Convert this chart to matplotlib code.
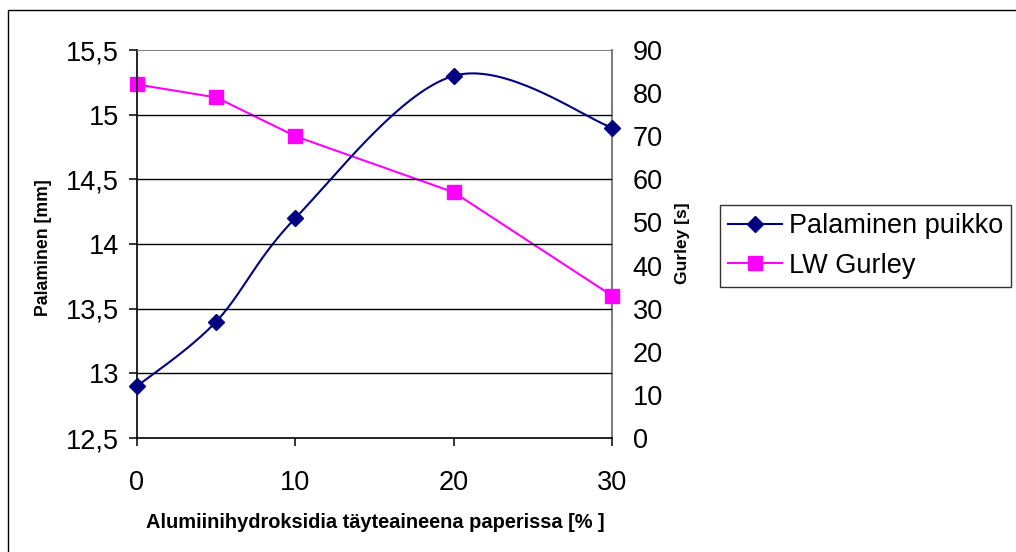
import matplotlib
matplotlib.use("Agg")
import matplotlib.pyplot as plt
import matplotlib.patches as patches
from matplotlib.ticker import FuncFormatter
import numpy as np

plt.rcParams['font.family'] = ['Liberation Sans', 'DejaVu Sans']

# data
filler = [0, 5, 10, 20, 30]
palaminen = [12.9, 13.4, 14.2, 15.3, 14.9]
gurley = [82, 79, 70, 57, 33]

x_ticks = [0, 10, 20, 30]
left_ticks = [12.5, 13, 13.5, 14, 14.5, 15, 15.5]
right_ticks = [0, 10, 20, 30, 40, 50, 60, 70, 80, 90]

NAVY = '#000080'
MAGENTA = '#FF00FF'


def smooth_line(xs, ys, n=40):
    # Excel-style smoothed line: cubic bezier with Catmull-Rom control points
    pts = np.column_stack([xs, ys]).astype(float)
    ext = np.vstack([pts[0], pts, pts[-1]])
    out = []
    t = np.linspace(0, 1, n)[:, None]
    for i in range(len(pts) - 1):
        p0, p1, p2, p3 = ext[i], ext[i + 1], ext[i + 2], ext[i + 3]
        c1 = p1 + (p2 - p0) / 6
        c2 = p2 - (p3 - p1) / 6
        seg = ((1 - t) ** 3) * p1 + 3 * ((1 - t) ** 2) * t * c1 + 3 * (1 - t) * t ** 2 * c2 + t ** 3 * p2
        out.append(seg if i == 0 else seg[1:])
    out = np.vstack(out)
    return out[:, 0], out[:, 1]


fig = plt.figure(figsize=(10.16, 5.52), dpi=100)
# outer chart frame, only left and top edges are inside the picture
fig.patches.append(patches.Rectangle((8 / 1016, -0.2), 1.2, 0.2 + (552 - 10) / 552, transform=fig.transFigure,
                                     fill=False, edgecolor='black', linewidth=1.0))

ax = fig.add_axes([137 / 1016, 114 / 552, 475 / 1016, 388 / 552])
ax2 = ax.twinx()

# left axis: Palaminen
sx, sy = smooth_line(filler, palaminen)
ax.plot(sx, sy, color=NAVY, linewidth=1.5, zorder=4, clip_on=False)
ax.plot(filler, palaminen, linestyle='none', marker='D', markersize=8.5, color=NAVY, zorder=5, clip_on=False)

ax.set_xlim(0, 30)
ax.set_ylim(12.5, 15.5)
ax.set_xticks(x_ticks)
ax.set_yticks(left_ticks)
ax.yaxis.set_major_formatter(FuncFormatter(lambda v, p: ('%g' % v).replace('.', ',')))
for y in left_ticks[1:-1]:
    ax.axhline(y, color='black', linewidth=1.0, zorder=1)

ax.spines['left'].set_color('black')
ax.spines['bottom'].set_color('black')
ax.spines['left'].set_linewidth(1.2)
ax.spines['bottom'].set_linewidth(1.2)
ax.spines['top'].set_color('#808080')
ax.spines['right'].set_visible(False)
ax.tick_params(axis='both', direction='out', length=6, width=1.1, labelsize=19.5, colors='black')
ax.tick_params(axis='y', pad=7)
ax.tick_params(axis='x', pad=17)

# right axis: Gurley
ax2.plot(filler, gurley, color=MAGENTA, linewidth=1.5, marker='s', markersize=9.5, zorder=5, clip_on=False)
ax2.set_ylim(0, 90)
ax2.set_yticks(right_ticks)
for s in ['top', 'left', 'bottom']:
    ax2.spines[s].set_visible(False)
ax2.spines['right'].set_color('#808080')
ax2.spines['right'].set_linewidth(1.5)
ax2.tick_params(axis='y', length=0, labelsize=19.5, pad=15)

ax.set_zorder(ax2.get_zorder() + 1)
ax.patch.set_visible(False)

fig.text(375 / 1016, 1 - 522 / 552, 'Alumiinihydroksidia täyteaineena paperissa [% ]',
         ha='center', va='center', fontsize=14.4, fontweight='bold')
fig.text(44 / 1016, 1 - 248 / 552, 'Palaminen [mm]', rotation=90,
         ha='center', va='center', fontsize=12.7, fontweight='bold')
fig.text(683 / 1016, 1 - 243 / 552, 'Gurley [s]', rotation=90,
         ha='center', va='center', fontsize=12.5, fontweight='bold')

# legend
h1 = plt.Line2D([], [], color=NAVY, linewidth=1.5, marker='D', markersize=8.5)
h2 = plt.Line2D([], [], color=MAGENTA, linewidth=1.5, marker='s', markersize=9.5)
leg = fig.legend([h1, h2], ['Palaminen puikko', 'LW Gurley'],
                 loc='upper left', bbox_to_anchor=(720 / 1016, 1 - 205 / 552),
                 bbox_transform=fig.transFigure, fontsize=19.5, frameon=True, fancybox=False,
                 edgecolor='black', borderpad=0.3, handlelength=2.0, handletextpad=0.25,
                 labelspacing=0.5, borderaxespad=0)
leg.get_frame().set_linewidth(1.0)

fig.savefig('out.png', dpi=100)
